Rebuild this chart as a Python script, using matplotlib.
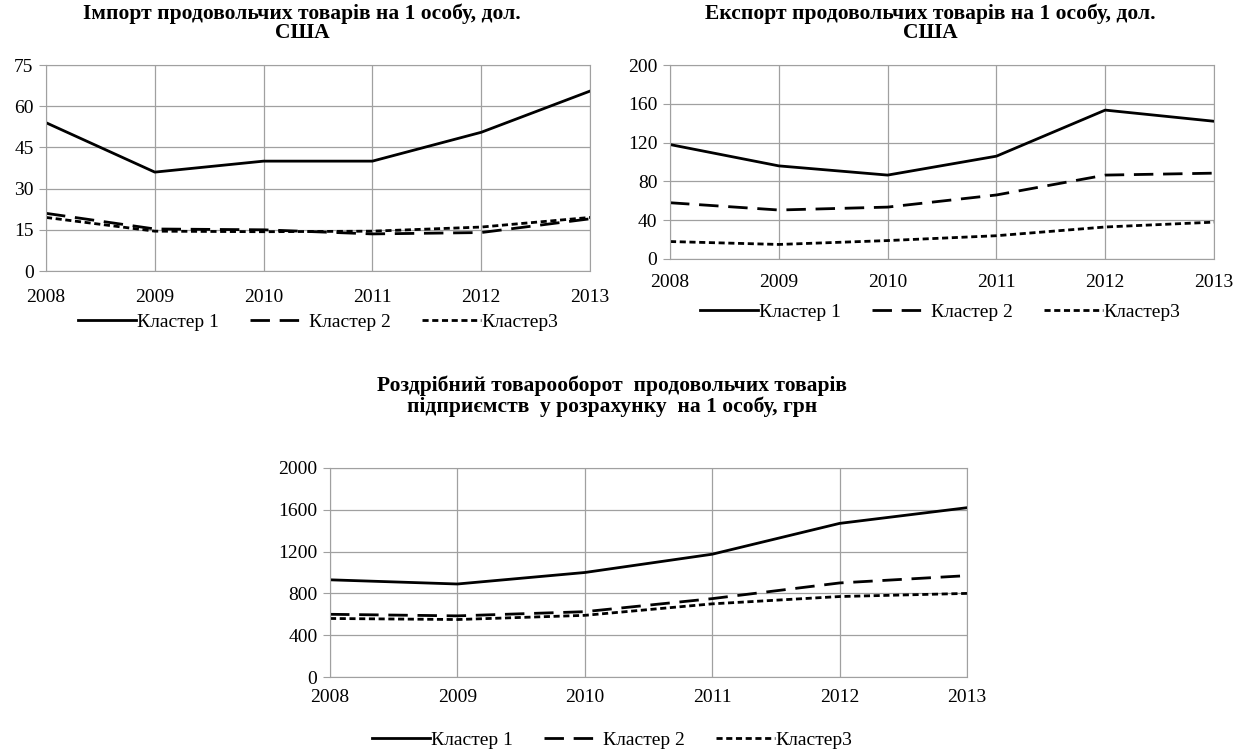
import matplotlib.pyplot as plt

plt.rcParams['font.family'] = ['Liberation Serif', 'DejaVu Serif']

years = [2008, 2009, 2010, 2011, 2012, 2013]
series_names = ['Кластер 1', 'Кластер 2', 'Кластер3']

# Import of food products per capita, USD
import_c1 = [54, 36, 40, 40, 50.5, 65.5]
import_c2 = [21, 15.3, 15, 13.5, 14, 19]
import_c3 = [19.5, 14.5, 14.3, 14.5, 16, 19.5]

# Export of food products per capita, USD
export_c1 = [118, 96, 86.5, 106, 153.5, 142]
export_c2 = [58, 50.5, 53.5, 66, 86.5, 88.5]
export_c3 = [18, 15, 19, 24, 33, 38]

# Retail turnover per capita, UAH
retail_c1 = [930, 890, 1000, 1175, 1470, 1620]
retail_c2 = [600, 585, 625, 750, 900, 970]
retail_c3 = [560, 550, 590, 700, 770, 800]

W, H = 1246, 755
fig = plt.figure(figsize=(W / 100, H / 100), dpi=100)

styles = [dict(linestyle='-'),
          dict(linestyle=(0, (7, 3.5))),
          dict(linestyle=(0, (2.2, 1.3)))]


def px_axes(x0, y0, x1, y1):
    return fig.add_axes([x0 / W, 1 - y1 / H, (x1 - x0) / W, (y1 - y0) / H])


def draw(ax, data, ymax, step, title, title_xy, leg_xy, xpad=9):
    for vals, name, st in zip(data, series_names, styles):
        ax.plot(years, vals, color='black', lw=2, label=name, **st)
    ax.set_xlim(2008, 2013)
    ax.set_ylim(0, ymax)
    ax.set_yticks(range(0, ymax + 1, step))
    ax.set_xticks(years)
    ax.grid(True, color='#a0a0a0', lw=0.9)
    for s in ax.spines.values():
        s.set_color('#a0a0a0')
    ax.tick_params(axis='y', length=5, color='#a0a0a0', labelsize=14, pad=4)
    ax.tick_params(axis='x', length=0, labelsize=14, pad=xpad)
    fig.text(title_xy[0] / W, 1 - title_xy[1] / H, title, ha='center', va='top',
             fontsize=15.5, fontweight='bold', linespacing=1.0)
    fig.legend(*ax.get_legend_handles_labels(), loc='center',
               bbox_to_anchor=(leg_xy[0] / W, 1 - leg_xy[1] / H), ncol=3,
               frameon=False, fontsize=14, handlelength=3.0,
               handletextpad=0.05, columnspacing=1.6)


ax1 = px_axes(46, 65, 590, 271)
draw(ax1, [import_c1, import_c2, import_c3], 75, 15,
     'Імпорт продовольчих товарів на 1 особу, дол.\nСША', (302, 3), (318, 322), xpad=13)

ax2 = px_axes(670, 65, 1214, 259)
draw(ax2, [export_c1, export_c2, export_c3], 200, 40,
     'Експорт продовольчих товарів на 1 особу, дол.\nСША', (930, 3), (940, 312), xpad=11)

ax3 = px_axes(330, 468, 967, 677)
draw(ax3, [retail_c1, retail_c2, retail_c3], 2000, 400,
     'Роздрібний товарооборот  продовольчих товарів\nпідприємств  у розрахунку  на 1 особу, грн', (612, 376), (612, 740))

fig.savefig('out.png', dpi=100)
